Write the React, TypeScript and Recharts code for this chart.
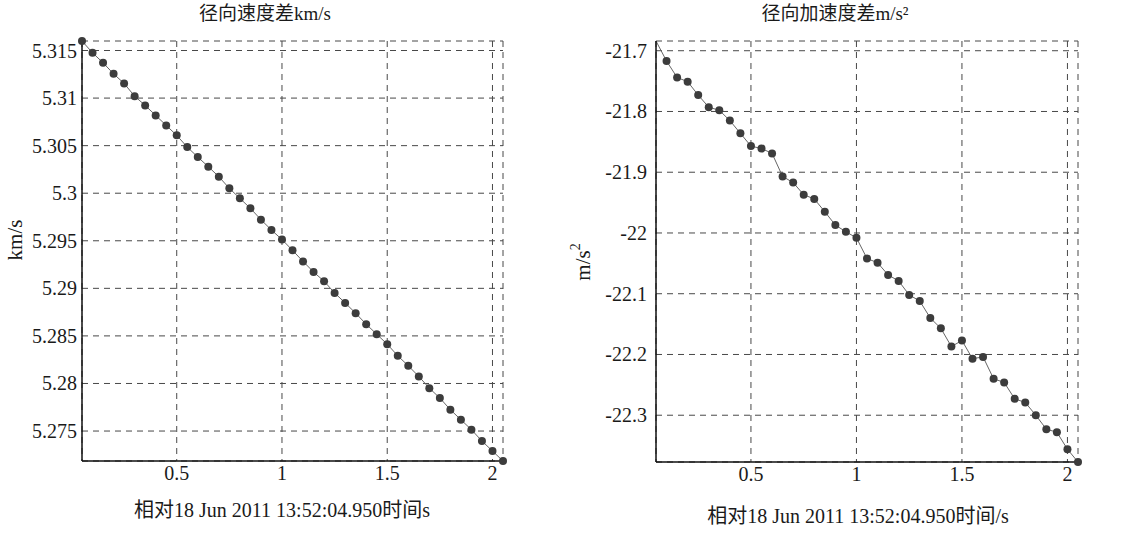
import React from 'react';
import { LineChart, Line, XAxis, YAxis, CartesianGrid, Label } from 'recharts';

const timeS = [
  0.05, 0.1, 0.15, 0.2, 0.25, 0.3, 0.35, 0.4, 0.45, 0.5,
  0.55, 0.6, 0.65, 0.7, 0.75, 0.8, 0.85, 0.9, 0.95, 1.0,
  1.05, 1.1, 1.15, 1.2, 1.25, 1.3, 1.35, 1.4, 1.45, 1.5,
  1.55, 1.6, 1.65, 1.7, 1.75, 1.8, 1.85, 1.9, 1.95, 2.0, 2.05,
];

const velocityDiff = [
  5.3160, 5.31476, 5.31371, 5.31255, 5.31154, 5.31020, 5.30923, 5.30818, 5.30713, 5.30608,
  5.30485, 5.30380, 5.30279, 5.30174, 5.30051, 5.29946, 5.29841, 5.29722, 5.29613, 5.29513,
  5.29400, 5.29283, 5.29172, 5.29075, 5.28952, 5.28847, 5.28739, 5.28623, 5.28518, 5.28413,
  5.28291, 5.28186, 5.28074, 5.27951, 5.27847, 5.27724, 5.27619, 5.27514, 5.27395, 5.27290, 5.27185,
];

const accelDiff = [
  -21.684, -21.717, -21.744, -21.751, -21.773, -21.793, -21.798, -21.815, -21.836, -21.857,
  -21.861, -21.869, -21.907, -21.917, -21.937, -21.944, -21.965, -21.987, -21.998, -22.008,
  -22.042, -22.049, -22.069, -22.079, -22.102, -22.112, -22.140, -22.157, -22.187, -22.177,
  -22.207, -22.204, -22.240, -22.246, -22.273, -22.279, -22.300, -22.323, -22.328, -22.356, -22.377,
];

const xTicks = [0.5, 1, 1.5, 2];
const xTickLabels = ['0.5', '1', '1.5', '2'];
const velTicks = [5.275, 5.28, 5.285, 5.29, 5.295, 5.3, 5.305, 5.31, 5.315];
const accTicks = [-22.3, -22.2, -22.1, -22, -21.9, -21.8, -21.7];
const velTickLabels = ['5.275', '5.28', '5.285', '5.29', '5.295', '5.3', '5.305', '5.31', '5.315'];
const accTickLabels = ['-22.3', '-22.2', '-22.1', '-22', '-21.9', '-21.8', '-21.7'];

const velTitle = '径向速度差km/s';
const accTitle = '径向加速度差m/s²';
const xLabelLeft = '相对18 Jun 2011 13:52:04.950时间s';
const xLabelRight = '相对18 Jun 2011 13:52:04.950时间/s';

const velData = timeS.map((t, i) => ({ t, v: velocityDiff[i] }));
const accData = timeS.map((t, i) => ({ t, a: accelDiff[i] }));

const FONT = "Liberation Serif, Noto Sans CJK SC, serif";
const TICK_FONT = 20;
const TEXT_COLOR = '#1a1a1a';
const BORDER = '#3a3a3a';
const GRID = '#484848';

const dotFull = (props: any) => (
  <circle key={`d-${props.index}`} cx={props.cx} cy={props.cy} r={4} fill="#3c3c3c" stroke="none" />
);
const dotSkipFirst = (props: any) =>
  props.index === 0 ? (
    <g key={`d-${props.index}`} />
  ) : (
    <circle key={`d-${props.index}`} cx={props.cx} cy={props.cy} r={4} fill="#3c3c3c" stroke="none" />
  );

const lookup = (labels: string[], ticks: number[], v: number) => {
  const i = ticks.findIndex((t) => Math.abs(t - v) < 1e-9);
  return i >= 0 ? labels[i] : String(v);
};

const makeXTick = () => (p: any) => (
  <text
    x={p.x}
    y={p.y + 19}
    textAnchor="middle"
    style={{ fontFamily: FONT, fontSize: TICK_FONT, fill: TEXT_COLOR }}
  >
    {lookup(xTickLabels, xTicks, p.payload.value)}
  </text>
);

const makeYTick = (labels: string[], ticks: number[], gap: number) => (p: any) => (
  <text
    x={p.x - gap}
    y={p.y + 7}
    textAnchor="end"
    style={{ fontFamily: FONT, fontSize: TICK_FONT, fill: TEXT_COLOR }}
  >
    {lookup(labels, ticks, p.payload.value)}
  </text>
);

function Panel(props: {
  left: number;
  data: any[];
  dataKey: string;
  yDomain: [number, number];
  yTicks: number[];
  yLabels: string[];
  marginLeft: number;
  marginRight: number;
  marginBottom: number;
  tickGap: number;
  title: string;
  titleX: number;
  yLabel: React.ReactNode;
  yLabelX: number;
  yLabelY: number;
  xLabel: string;
  xLabelX: number;
  xLabelY: number;
  dot: any;
}) {
  const W = 566;
  const H = 533;
  return (
    <div style={{ position: 'absolute', left: props.left, top: 0, width: W, height: H }}>
      <div
        style={{
          position: 'absolute',
          left: props.titleX - 200,
          width: 400,
          top: 2,
          textAlign: 'center',
          fontFamily: FONT,
          fontSize: 19,
          lineHeight: '24px',
          color: TEXT_COLOR,
        }}
      >
        {props.title}
      </div>
      <LineChart
        width={W}
        height={H}
        data={props.data}
        margin={{ top: 41, right: props.marginRight, bottom: 0, left: 0 }}
      >
        <CartesianGrid stroke={GRID} strokeDasharray="6 5" strokeWidth={1} />
        <XAxis
          dataKey="t"
          type="number"
          domain={[0.05, 2.05]}
          ticks={xTicks}
          tick={makeXTick()}
          tickLine={false}
          tickSize={0}
          tickMargin={0}
          height={props.marginBottom}
          axisLine={{ stroke: '#111', strokeWidth: 1.5 }}
        >
          <Label
            content={() => (
              <text
                x={props.xLabelX}
                y={props.xLabelY}
                textAnchor="middle"
                style={{ fontFamily: FONT, fontSize: 20, fill: TEXT_COLOR }}
              >
                {props.xLabel}
              </text>
            )}
          />
        </XAxis>
        <XAxis
          xAxisId="top"
          orientation="top"
          type="number"
          domain={[0.05, 2.05]}
          ticks={xTicks}
          height={0}
          mirror
          tick={false}
          tickSize={5}
          tickLine={{ stroke: BORDER }}
          axisLine={{ stroke: BORDER, strokeWidth: 1.5 }}
        />
        <YAxis
          type="number"
          domain={props.yDomain}
          ticks={props.yTicks}
          tick={makeYTick(props.yLabels, props.yTicks, props.tickGap)}
          tickLine={false}
          tickSize={0}
          tickMargin={0}
          width={props.marginLeft}
          axisLine={{ stroke: '#111', strokeWidth: 1.5 }}
        >
          <Label
            content={() => (
              <text
                x={props.yLabelX}
                y={props.yLabelY}
                textAnchor="middle"
                dominantBaseline="central"
                transform={`rotate(-90 ${props.yLabelX} ${props.yLabelY})`}
                style={{ fontFamily: FONT, fontSize: 21, fill: TEXT_COLOR }}
              >
                {props.yLabel}
              </text>
            )}
          />
        </YAxis>
        <YAxis
          yAxisId="right"
          orientation="right"
          type="number"
          domain={props.yDomain}
          ticks={props.yTicks}
          width={0}
          mirror
          tick={false}
          tickSize={5}
          tickLine={{ stroke: BORDER }}
          axisLine={{ stroke: BORDER, strokeWidth: 1.5 }}
        />
        <Line
          type="linear"
          dataKey={props.dataKey}
          stroke="#666"
          strokeWidth={1}
          dot={props.dot}
          activeDot={false}
          isAnimationActive={false}
        />
      </LineChart>
    </div>
  );
}

export default function App() {
  return (
    <div style={{ position: 'absolute', left: 0, top: 0, width: 1132, height: 533, background: '#fff' }}>
      <Panel
        left={0}
        data={velData}
        dataKey="v"
        yDomain={[5.27185, 5.3160]}
        yTicks={velTicks}
        yLabels={velTickLabels}
        marginLeft={82}
        marginRight={63}
        marginBottom={72}
        tickGap={5}
        title={velTitle}
        titleX={265}
        yLabel="km/s"
        yLabelX={15}
        yLabelY={240}
        xLabel={xLabelLeft}
        xLabelX={282}
        xLabelY={517}
        dot={dotFull}
      />
      <Panel
        left={566}
        data={accData}
        dataKey="a"
        yDomain={[-22.377, -21.684]}
        yTicks={accTicks}
        yLabels={accTickLabels}
        marginLeft={90}
        marginRight={54}
        marginBottom={71}
        tickGap={9}
        title={accTitle}
        titleX={269}
        yLabel={
          <>
            m/s<tspan style={{ fontSize: 14 }} dy={-8}>2</tspan>
          </>
        }
        yLabelX={17}
        yLabelY={262}
        xLabel={xLabelRight}
        xLabelX={292}
        xLabelY={523}
        dot={dotSkipFirst}
      />
    </div>
  );
}
